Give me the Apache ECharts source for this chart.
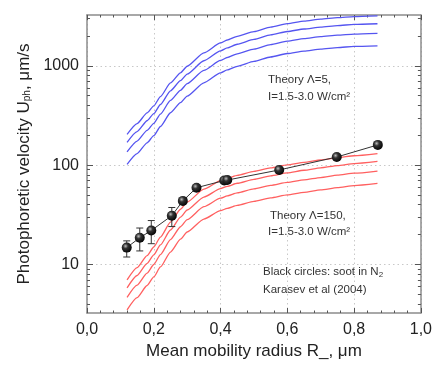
<!DOCTYPE html>
<html>
<head>
<meta charset="utf-8">
<script src="https://cdn.jsdelivr.net/npm/echarts@6/dist/echarts.min.js"></script>
<style>
html,body{margin:0;padding:0;background:#fff;}
#chart{width:435px;height:365px;}
</style>
</head>
<body>
<div id="chart"></div>
<script>
// ---- data ----
var xGrid = [0.12, 0.15, 0.18, 0.20, 0.22, 0.25, 0.28, 0.30, 0.35, 0.40, 0.42, 0.45, 0.50, 0.55, 0.60, 0.65, 0.70, 0.75, 0.80, 0.87];

// Theory Lambda=5 (blue), I = 3.0, 2.5, 2.0, 1.5 W/cm2
var blueI30 = [204, 262, 336, 396, 490, 673, 851, 991, 1350, 1700, 1820, 1980, 2213, 2455, 2661, 2818, 2951, 3055, 3133, 3184];
var blueI25 = [170, 218, 280, 330, 408, 561, 709, 826, 1125, 1417, 1517, 1650, 1844, 2046, 2218, 2348, 2459, 2546, 2611, 2653];
var blueI20 = [136, 175, 224, 264, 327, 449, 567, 661, 900, 1133, 1213, 1320, 1475, 1637, 1774, 1879, 1967, 2037, 2089, 2123];
var blueI15 = [102, 131, 168, 198, 245, 337, 426, 496, 675, 850, 910, 990, 1107, 1228, 1331, 1409, 1476, 1528, 1567, 1592];

// Theory Lambda=150 (red), I = 3.0, 2.5, 2.0, 1.5 W/cm2
var redI30 = [7.0, 9.3, 12.3, 15.0, 18.9, 26.7, 36.0, 42.5, 57.3, 69.7, 73.6, 78.9, 86.5, 93.8, 100.5, 106.7, 112.7, 118.9, 124.5, 130.9];
var redI25 = [5.83, 7.75, 10.25, 12.5, 15.75, 22.25, 30.0, 35.4, 47.75, 58.1, 61.3, 65.75, 72.1, 78.2, 83.75, 88.9, 93.9, 99.1, 103.75, 109.1];
var redI20 = [4.67, 6.2, 8.2, 10.0, 12.6, 17.8, 24.0, 28.3, 38.2, 46.5, 49.1, 52.6, 57.7, 62.5, 67.0, 71.1, 75.1, 79.3, 83.0, 87.3];
var redI15 = [3.5, 4.65, 6.15, 7.5, 9.45, 13.35, 18.0, 21.25, 28.65, 34.85, 36.8, 39.45, 43.25, 46.9, 50.25, 53.35, 56.35, 59.45, 62.25, 65.45];

// Black circles: soot in N2, Karasev et al (2004)
var sootR   = [0.119, 0.158, 0.1925, 0.254, 0.287, 0.328, 0.411, 0.420, 0.5756, 0.748, 0.871];
var sootU   = [14.8, 18.6, 22.0, 31.0, 43.7, 59.3, 70.1, 70.8, 89.5, 120.8, 160.0];
var sootLow = [11.9, 13.7, 16.2, 24.1, null, null, null, null, null, null, null];
var sootHigh= [17.3, 23.3, 27.7, 37.5, null, null, null, null, null, null, null];

// axes
var X_MIN = 0, X_MAX = 1, X_STEP = 0.2;
var xTickLabels = ['0,0', '0,2', '0,4', '0,6', '0,8', '1,0'];
var Y_MIN = 3.25, Y_MAX = 3250;
var yMajor = [10, 100, 1000];
var yTickLabels = ['10', '100', '1000'];
var yMinor = [4, 5, 6, 7, 8, 9, 20, 30, 40, 50, 60, 70, 80, 90, 200, 300, 400, 500, 600, 700, 800, 900, 2000, 3000];

// ---- chart ----
var FONT = 'Liberation Sans, Arial, sans-serif';
var FRAME = '#8c8c8c';
function zip(xs, ys) { return xs.map(function (x, i) { return [x, ys[i]]; }); }

var chart = echarts.init(document.getElementById('chart'), null, {renderer: 'canvas'});

function curve(name, ys, color) {
  return {
    name: name, type: 'line', data: zip(xGrid, ys), xAxisIndex: 0, yAxisIndex: 0,
    showSymbol: false, smooth: 0.2, smoothMonotone: 'x',
    lineStyle: {color: color, width: 1.3}, z: 2, silent: true
  };
}

var errData = sootR.map(function (x, i) { return [x, sootLow[i], sootHigh[i]]; })
  .filter(function (d) { return d[1] != null; });

var option = {
  animation: false,
  backgroundColor: '#fff',
  textStyle: {fontFamily: FONT},
  grid: {left: 87, right: 11, top: 15, bottom: 48, containLabel: false},
  xAxis: [{
    type: 'value', min: X_MIN, max: X_MAX, interval: X_STEP, position: 'bottom',
    name: 'Mean mobility radius R_, μm', nameLocation: 'middle', nameGap: 30,
    nameTextStyle: {fontSize: 17, color: '#222', fontFamily: FONT},
    axisLine: {show: true, lineStyle: {color: FRAME, width: 1.5}},
    axisTick: {show: true, inside: true, length: 5, lineStyle: {color: '#555'}},
    minorTick: {show: true, splitNumber: 5, length: 2.5, lineStyle: {color: '#555'}},
    axisLabel: {fontSize: 16, color: '#222', margin: 9, fontFamily: FONT,
      formatter: function (v) { return xTickLabels[Math.round((v - X_MIN) / X_STEP)]; }},
    splitLine: {show: true, lineStyle: {color: '#c8c8c8', type: [1.5, 3], width: 1}}
  }, {
    type: 'value', min: X_MIN, max: X_MAX, interval: X_STEP, position: 'top',
    axisLine: {show: true, lineStyle: {color: FRAME, width: 1.5}},
    axisTick: {show: true, inside: true, length: 5, lineStyle: {color: '#555'}},
    minorTick: {show: true, splitNumber: 5, length: 2.5, lineStyle: {color: '#555'}},
    axisLabel: {show: false}, splitLine: {show: false}
  }],
  yAxis: [{
    type: 'log', logBase: 10, min: Y_MIN, max: Y_MAX, position: 'left',
    name: 'Photophoretic velocity U{sub|ph}, μm/s', nameLocation: 'middle', nameGap: 52, nameRotate: 90,
    nameTextStyle: {fontSize: 17, color: '#222', fontFamily: FONT,
      rich: {sub: {fontSize: 10, color: '#222', verticalAlign: 'bottom', padding: [6, 0, 0, 0], fontFamily: FONT}}},
    axisLine: {show: true, lineStyle: {color: FRAME, width: 1.5}},
    axisTick: {show: true, inside: true, length: 6, customValues: yMajor, lineStyle: {color: '#555'}},
    axisLabel: {fontSize: 16, color: '#222', margin: 8, customValues: yMajor, fontFamily: FONT,
      formatter: function (v) { var i = yMajor.indexOf(Math.round(v)); return i >= 0 ? yTickLabels[i] : ''; }},
    splitLine: {show: true, lineStyle: {color: '#c8c8c8', type: [1.5, 3], width: 1}}
  }, {
    type: 'log', logBase: 10, min: Y_MIN, max: Y_MAX, position: 'left',
    axisLine: {show: false},
    axisTick: {show: true, inside: true, length: 3, customValues: yMinor, lineStyle: {color: '#555'}},
    axisLabel: {show: false}, splitLine: {show: false}
  }, {
    type: 'log', logBase: 10, min: Y_MIN, max: Y_MAX, position: 'right',
    axisLine: {show: true, lineStyle: {color: FRAME, width: 1.5}},
    axisTick: {show: true, inside: true, length: 6, customValues: yMajor, lineStyle: {color: '#555'}},
    axisLabel: {show: false}, splitLine: {show: false}
  }, {
    type: 'log', logBase: 10, min: Y_MIN, max: Y_MAX, position: 'right',
    axisLine: {show: false},
    axisTick: {show: true, inside: true, length: 3, customValues: yMinor, lineStyle: {color: '#555'}},
    axisLabel: {show: false}, splitLine: {show: false}
  }],
  series: [
    curve('Λ=5, I=3.0', blueI30, '#5555f0'),
    curve('Λ=5, I=2.5', blueI25, '#5555f0'),
    curve('Λ=5, I=2.0', blueI20, '#5555f0'),
    curve('Λ=5, I=1.5', blueI15, '#5555f0'),
    curve('Λ=150, I=3.0', redI30, '#ff6060'),
    curve('Λ=150, I=2.5', redI25, '#ff6060'),
    curve('Λ=150, I=2.0', redI20, '#ff6060'),
    curve('Λ=150, I=1.5', redI15, '#ff6060'),
    {
      name: 'error', type: 'custom', xAxisIndex: 0, yAxisIndex: 0, z: 4, silent: true,
      data: errData,
      renderItem: function (params, api) {
        var x = api.value(0);
        var lo = api.coord([x, api.value(1)]);
        var hi = api.coord([x, api.value(2)]);
        var w = 3.5;
        var st = {stroke: '#333', lineWidth: 1};
        return {type: 'group', children: [
          {type: 'line', shape: {x1: lo[0], y1: lo[1], x2: hi[0], y2: hi[1]}, style: st},
          {type: 'line', shape: {x1: lo[0] - w, y1: lo[1], x2: lo[0] + w, y2: lo[1]}, style: st},
          {type: 'line', shape: {x1: hi[0] - w, y1: hi[1], x2: hi[0] + w, y2: hi[1]}, style: st}
        ]};
      }
    },
    {
      name: 'soot in N2', type: 'line', data: zip(sootR, sootU), xAxisIndex: 0, yAxisIndex: 0,
      z: 5, symbol: 'circle', symbolSize: 10, showSymbol: true, silent: true,
      lineStyle: {color: '#333', width: 1},
      itemStyle: {
        color: {type: 'radial', x: 0.38, y: 0.35, r: 0.7,
          colorStops: [{offset: 0, color: '#bdbdbd'}, {offset: 0.35, color: '#333'}, {offset: 1, color: '#000'}]},
        borderWidth: 0
      }
    }
  ],
  graphic: [
    {type: 'text', left: 268, top: 74, style: {text: 'Theory Λ=5,', font: '11.5px ' + FONT, fill: '#333'}},
    {type: 'text', left: 268, top: 91, style: {text: 'I=1.5-3.0 W/cm²', font: '11.5px ' + FONT, fill: '#333'}},
    {type: 'text', left: 270, top: 210, style: {text: 'Theory Λ=150,', font: '11.5px ' + FONT, fill: '#333'}},
    {type: 'text', left: 268, top: 226, style: {text: 'I=1.5-3.0 W/cm²', font: '11.5px ' + FONT, fill: '#333'}},
    {type: 'text', left: 263, top: 266, style: {rich: {sub: {fontSize: 8, fill: '#333', padding: [5, 0, 0, 0], verticalAlign: 'bottom'}},
      text: 'Black circles: soot in N{sub|2}', font: '11.5px ' + FONT, fill: '#333'}},
    {type: 'text', left: 263, top: 284, style: {text: 'Karasev et al (2004)', font: '11.5px ' + FONT, fill: '#333'}}
  ]
};
chart.setOption(option);
</script>
</body>
</html>
